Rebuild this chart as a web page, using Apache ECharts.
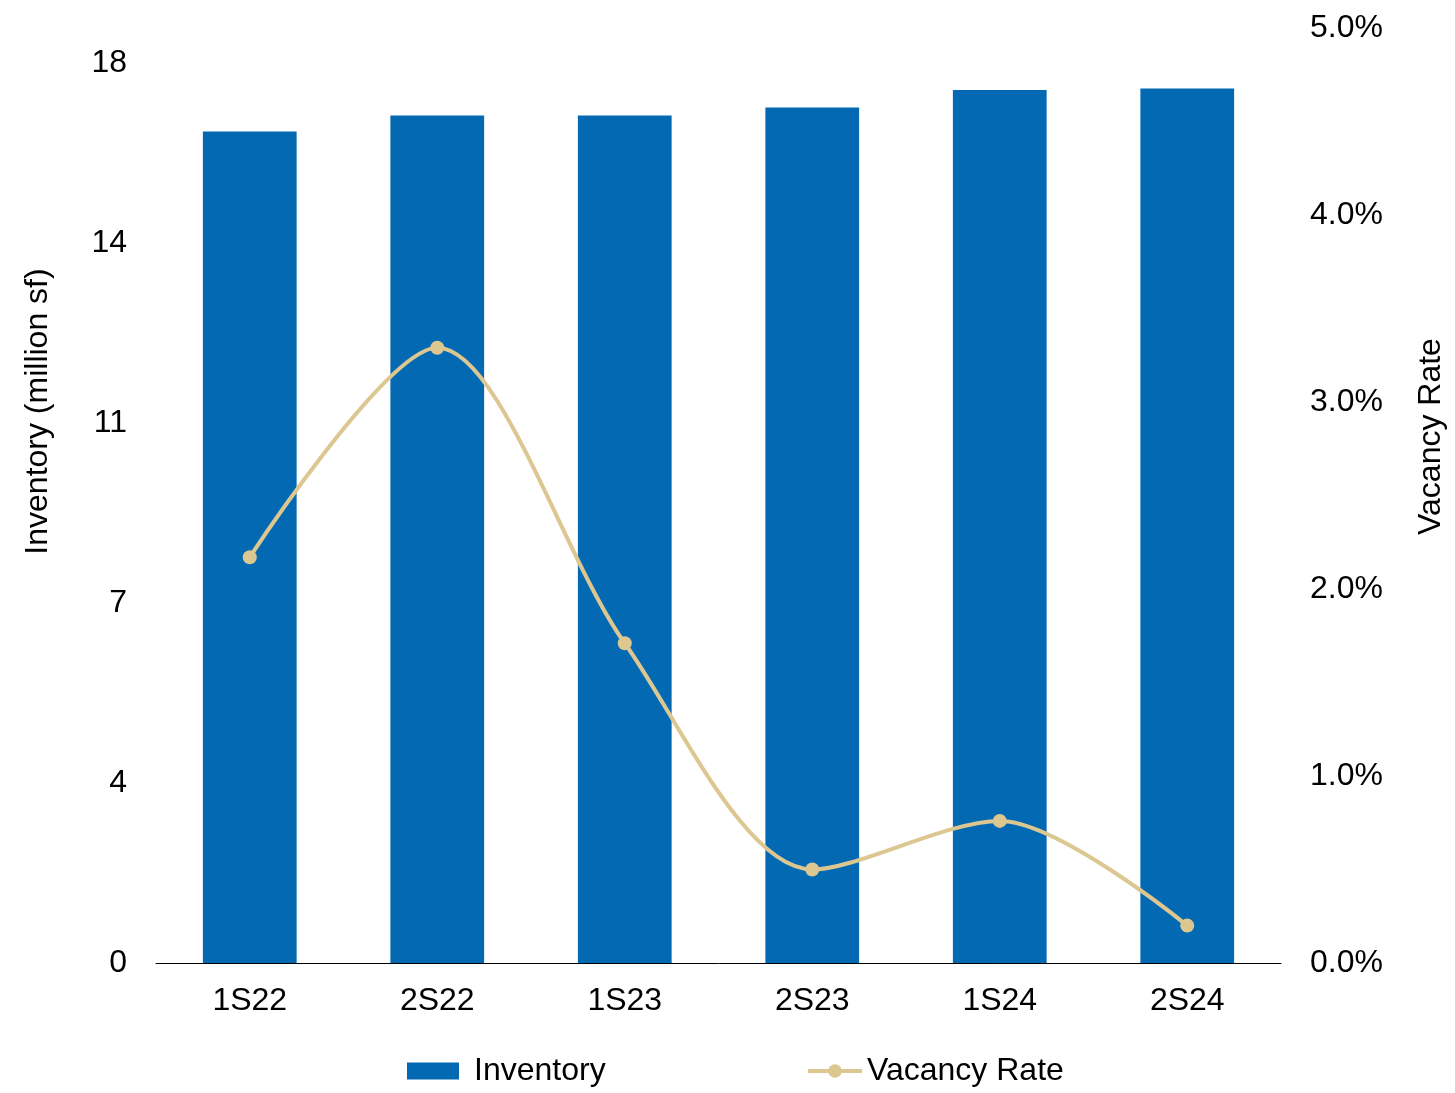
<!DOCTYPE html>
<html>
<head>
<meta charset="utf-8">
<script src="https://cdn.jsdelivr.net/npm/echarts@6/dist/echarts.min.js"></script>
<style>
  html, body { margin: 0; padding: 0; background: #ffffff; overflow: hidden; }
  #chart { width: 1455px; height: 1093px; }
</style>
</head>
<body>
<div id="chart"></div>
<script>
// Half-year periods
const periods = ['1S22', '2S22', '1S23', '2S23', '1S24', '2S24'];
// Inventory, million sf
const inventory = [16.63, 16.95, 16.95, 17.11, 17.46, 17.49];
// Vacancy rate, percent
const vacancyRate = [2.17, 3.29, 1.71, 0.50, 0.76, 0.20];

const BLUE = '#0469b3';
const TAN = '#dcc791';
const FONT = 'Liberation Sans, Arial, Helvetica, sans-serif';

const chart = echarts.init(document.getElementById('chart'), null, { renderer: 'canvas' });

const labelStyle = { fontFamily: FONT, fontSize: 32, color: '#000000' };

chart.setOption({
  backgroundColor: '#ffffff',
  animation: false,
  textStyle: { fontFamily: FONT, color: '#000000' },
  grid: { left: 156, width: 1131, top: 28, height: 935, containLabel: false },
  legend: [
    {
      data: ['Inventory'],
      left: 407, top: 1055,
      padding: 0,
      itemWidth: 52, itemHeight: 17,
      icon: 'rect',
      textStyle: Object.assign({}, labelStyle, { padding: [0, 0, 0, 10] })
    },
    {
      data: ['Vacancy Rate'],
      left: 806, top: 1055,
      padding: 0,
      itemWidth: 54, itemHeight: 17,
      lineStyle: { width: 4 },
      textStyle: labelStyle
    }
  ],
  xAxis: {
    type: 'category',
    data: periods,
    axisLine: { show: true, lineStyle: { color: '#000000', width: 1 } },
    axisTick: { show: false },
    axisLabel: Object.assign({}, labelStyle, { margin: 22 }),
    splitLine: { show: false }
  },
  yAxis: [
    {
      type: 'value',
      position: 'left',
      min: 0,
      max: 18.7,
      interval: 3.6,
      name: 'Inventory (million sf)',
      nameLocation: 'middle',
      nameGap: 102,
      nameTextStyle: Object.assign({}, labelStyle, { padding: [0, 0, 0, 168] }),
      axisLine: { show: false },
      axisTick: { show: false },
      splitLine: { show: false },
      axisLabel: Object.assign({}, labelStyle, {
        margin: 29,
        padding: [4, 0, 0, 0],
        showMaxLabel: false,
        formatter: v => String(Math.round(v))
      })
    },
    {
      type: 'value',
      position: 'right',
      min: 0,
      max: 5,
      interval: 1,
      name: 'Vacancy Rate',
      nameLocation: 'middle',
      nameGap: 134,
      nameTextStyle: Object.assign({}, labelStyle, { padding: [0, 0, 0, 118] }),
      axisLine: { show: false },
      axisTick: { show: false },
      splitLine: { show: false },
      axisLabel: Object.assign({}, labelStyle, {
        margin: 29,
        padding: [4, 0, 0, 0],
        formatter: v => v.toFixed(1) + '%'
      })
    }
  ],
  series: [
    {
      name: 'Inventory',
      type: 'bar',
      yAxisIndex: 0,
      data: inventory,
      barWidth: '50%',
      itemStyle: { color: BLUE },
      z: 2
    },
    {
      name: 'Vacancy Rate',
      type: 'line',
      yAxisIndex: 1,
      data: vacancyRate,
      smooth: 0.3,
      symbol: 'circle',
      symbolSize: 14,
      lineStyle: { color: TAN, width: 4 },
      itemStyle: { color: TAN },
      z: 3
    }
  ]
});
</script>
</body>
</html>
